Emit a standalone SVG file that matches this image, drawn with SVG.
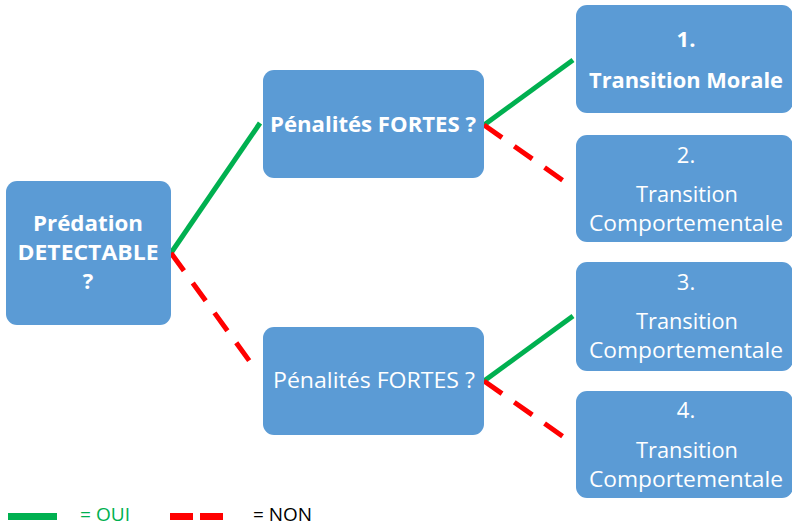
<svg xmlns="http://www.w3.org/2000/svg" width="792" height="527" viewBox="0 0 792 527">
<style>
.box{fill:#5B9BD5;}
.t{font-family:"Open Sans","Liberation Sans",sans-serif;fill:#FFFFFF;text-anchor:middle;font-size:22px;}
.b{font-weight:bold;}
.yes{stroke:#00B050;stroke-width:5;fill:none;}
.no{stroke:#FF0000;stroke-width:5;fill:none;stroke-dasharray:22 15;}
.leg{font-family:"Open Sans","Liberation Sans",sans-serif;font-size:18px;}
</style>
<rect width="792" height="527" fill="#FFFFFF"/>
<g id="connectors">
<line class="yes" x1="171" y1="253" x2="260" y2="123"/>
<line class="no" x1="171" y1="253" x2="256" y2="370"/>
<line class="yes" x1="484" y1="125" x2="573" y2="60"/>
<line class="no" x1="484" y1="125" x2="568" y2="184"/>
<line class="yes" x1="484" y1="381" x2="573" y2="316"/>
<line class="no" x1="484" y1="381" x2="568" y2="440"/>
</g>
<g id="n0">
<rect class="box" x="6" y="181" width="165" height="144" rx="11"/>
<text class="t b" x="88" y="231" textLength="110" lengthAdjust="spacingAndGlyphs">Prédation</text>
<text class="t b" x="88" y="260" textLength="141" lengthAdjust="spacingAndGlyphs">DETECTABLE</text>
<text class="t b" x="88" y="289">?</text>
</g>
<g id="n1">
<rect class="box" x="263" y="70" width="221" height="108" rx="11"/>
<text class="t b" x="373" y="132" textLength="206" lengthAdjust="spacingAndGlyphs">Pénalités FORTES ?</text>
</g>
<g id="n2">
<rect class="box" x="263" y="327" width="221" height="108" rx="11"/>
<text class="t" x="374" y="388" textLength="202" lengthAdjust="spacingAndGlyphs">Pénalités FORTES ?</text>
</g>
<g id="r1">
<rect class="box" x="576" y="5" width="217" height="108" rx="11"/>
<text class="t b" x="686" y="47">1.</text>
<text class="t b" x="686" y="88" textLength="194" lengthAdjust="spacingAndGlyphs">Transition Morale</text>
</g>
<g id="r2">
<rect class="box" x="576" y="135" width="217" height="107" rx="11"/>
<text class="t" x="686" y="163">2.</text>
<text class="t" x="687" y="202" textLength="102" lengthAdjust="spacingAndGlyphs">Transition</text>
<text class="t" x="686" y="231" textLength="194" lengthAdjust="spacingAndGlyphs">Comportementale</text>
</g>
<g id="r3">
<rect class="box" x="576" y="262" width="217" height="109" rx="11"/>
<text class="t" x="686" y="290">3.</text>
<text class="t" x="687" y="329" textLength="102" lengthAdjust="spacingAndGlyphs">Transition</text>
<text class="t" x="686" y="358" textLength="194" lengthAdjust="spacingAndGlyphs">Comportementale</text>
</g>
<g id="r4">
<rect class="box" x="576" y="391" width="217" height="107" rx="11"/>
<text class="t" x="686" y="418">4.</text>
<text class="t" x="687" y="458" textLength="102" lengthAdjust="spacingAndGlyphs">Transition</text>
<text class="t" x="686" y="487" textLength="194" lengthAdjust="spacingAndGlyphs">Comportementale</text>
</g>
<g id="legend">
<line x1="8" y1="516.5" x2="57" y2="516.5" stroke="#00B050" stroke-width="7"/>
<text class="leg" x="80" y="521" fill="#00B050" textLength="50" lengthAdjust="spacingAndGlyphs">= OUI</text>
<line x1="170" y1="516.5" x2="223" y2="516.5" stroke="#FF0000" stroke-width="7" stroke-dasharray="23 7"/>
<text class="leg" x="253" y="521" fill="#000000" textLength="59" lengthAdjust="spacingAndGlyphs">= NON</text>
</g>
</svg>
